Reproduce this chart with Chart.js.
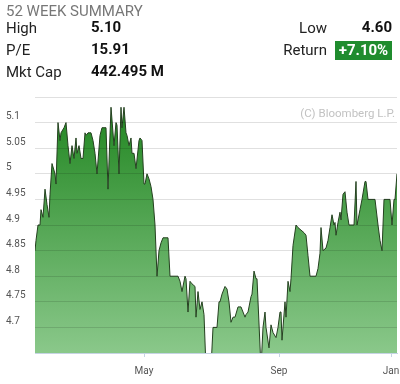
<!DOCTYPE html>
<html><head><meta charset="utf-8">
<script src="https://cdn.jsdelivr.net/npm/chart.js@4/dist/chart.umd.min.js"></script>
<style>
html,body{margin:0;padding:0;background:#fff;width:400px;height:384px;overflow:hidden;font-family:Roboto,sans-serif;}
#wrap{position:relative;width:400px;height:384px;}
canvas{position:absolute;left:0;top:0;}
.t{position:absolute;line-height:1;white-space:nowrap;font-size:15px;color:#222;}
.b{font-weight:bold;color:#111;}
#head{left:6px;top:4px;font-size:15px;color:#777;}
#ret{position:absolute;left:335px;top:41px;width:57px;height:19px;background:#1f8c2e;color:#fff;font-weight:bold;font-size:15px;line-height:19px;text-align:center;}
#copy{position:absolute;right:5px;top:108px;font-size:11.5px;line-height:1;color:#c2c2c2;white-space:nowrap;}
</style></head>
<body><div id="wrap">
<canvas id="c" width="400" height="384"></canvas>
<div class="t" id="head">52 WEEK SUMMARY</div>
<div class="t" style="left:6px;top:21px;">High</div>
<div class="t b" style="left:91px;top:20px;">5.10</div>
<div class="t" style="left:6px;top:43px;">P/E</div>
<div class="t b" style="left:91px;top:42px;">15.91</div>
<div class="t" style="left:6px;top:65px;">Mkt Cap</div>
<div class="t b" style="left:91px;top:64px;">442.495 M</div>
<div class="t" style="right:73px;top:21px;">Low</div>
<div class="t b" style="right:8px;top:20px;">4.60</div>
<div class="t" style="right:73px;top:43px;">Return</div>
<div id="ret">+7.10%</div>
<div id="copy">(C) Bloomberg L.P.</div>
</div>
<script>
const days = [0,1,3,5,6,8,10,12,14,15,17,20,21,23,25,26,29,31,33,35,37,39,41,42,44,46,48,50,51,53,56,58,60,62,65,67,71,73,76,79,81,82,84,86,87,89,91,92,94,96,97,99,101,104,105,107,109,110,112,114,116,118,120,122,124,126,128,133,135,138,143,145,147,150,151,153,155,157,160,161,163,165,167,169,171,173,176,178,180,182,184,185,187,190,192,194,196,198,200,203,206,210,211,213,216,217,219,221,222,226,228,230,231,234,236,238,241,243,245,246,247,250,251,253,255,256,258,261,263,266,269,271,273,275,281,283,285,286,288,291,293,295,297,299,300,301,303,305,306,308,310,312,314,319,321,322,325,327,330,331,333,340,343,345,347,349,355,357,359,360,362];
const prices = [4.85,4.87,4.90,4.90,4.93,4.915,4.97,4.94,4.915,4.96,5.02,5.00,4.98,5.10,5.065,5.08,5.09,5.10,5.055,5.02,5.055,5.03,5.07,5.04,5.055,5.03,5.03,5.08,5.075,5.08,5.08,5.065,5.04,5.00,5.075,5.09,5.09,4.97,5.13,5.055,5.10,5.095,5.00,5.13,5.09,5.13,5.08,5.075,5.055,5.07,5.04,5.04,5.01,5.065,5.07,5.065,4.98,4.98,5.00,4.99,4.975,4.95,4.90,4.80,4.85,4.865,4.875,4.875,4.80,4.80,4.80,4.79,4.77,4.80,4.795,4.73,4.79,4.785,4.78,4.72,4.77,4.735,4.75,4.725,4.62,4.60,4.62,4.70,4.70,4.70,4.75,4.75,4.765,4.78,4.775,4.75,4.71,4.72,4.72,4.74,4.74,4.72,4.725,4.73,4.76,4.765,4.81,4.795,4.795,4.62,4.70,4.73,4.70,4.66,4.705,4.69,4.68,4.70,4.73,4.73,4.675,4.75,4.72,4.79,4.77,4.795,4.86,4.90,4.895,4.89,4.885,4.88,4.84,4.80,4.80,4.815,4.845,4.895,4.85,4.855,4.87,4.895,4.92,4.90,4.905,4.88,4.905,4.925,4.91,4.96,4.965,4.925,4.90,4.90,4.985,4.90,4.93,4.95,4.985,4.985,4.95,4.95,4.90,4.87,4.85,4.95,4.95,4.90,4.95,4.95,5.00];
const monthTickDays = [109, 244, 356];
const monthTickLabels = ['May', 'Sep', 'Jan'];
const yMin = 4.65, yMax = 5.15, yStep = 0.05;

const ctx = document.getElementById('c').getContext('2d');
new Chart(ctx, {
  type: 'line',
  data: { datasets: [{
    data: days.map((d, i) => ({ x: d, y: prices[i] })),
    borderColor: '#24401f', borderWidth: 1, pointRadius: 0, tension: 0, fill: 'start',
    backgroundColor: (c) => {
      const a = c.chart.chartArea;
      if (!a) return 'rgb(70,160,70)';
      const g = c.chart.ctx.createLinearGradient(0, a.top, 0, a.bottom);
      g.addColorStop(0, 'rgb(30,132,30)');
      g.addColorStop(1, 'rgb(138,200,138)');
      return g;
    }
  }]},
  options: {
    responsive: false, animation: false, devicePixelRatio: 1,
    layout: { padding: { top: 97, left: 6, right: 3, bottom: 0 } },
    plugins: { legend: { display: false }, tooltip: { enabled: false } },
    scales: {
      x: {
        type: 'linear', min: 0, max: 362,
        afterBuildTicks: (s) => { s.ticks = monthTickDays.map(v => ({ value: v })); },
        afterFit: (s) => { s.height = 31; s.paddingLeft = 0; s.paddingRight = 0; },
        ticks: {
          autoSkip: false, maxRotation: 0, padding: 8, color: '#555',
          font: { family: 'Roboto', size: 10 },
          callback: (v) => { const i = monthTickDays.indexOf(v); return i >= 0 ? monthTickLabels[i] : ''; }
        },
        grid: { drawOnChartArea: false, drawTicks: true, tickLength: 4, color: '#c6d4e4' },
        border: { display: true, color: '#c6d4e4', width: 1 }
      },
      y: {
        min: yMin, max: yMax,
        afterFit: (s) => { s.width = 29; s.paddingTop = 0; s.paddingBottom = 0; },
        ticks: {
          stepSize: yStep, crossAlign: 'far', labelOffset: -6, padding: 0, color: '#555',
          font: { family: 'Roboto', size: 10 },
          callback: (v) => {
            const r = Math.round(v * 100) / 100;
            if (Math.abs(r - yMin) < 1e-6 || Math.abs(r - yMax) < 1e-6) return '';
            return String(r);
          }
        },
        grid: {
          drawTicks: false, z: 1,
          color: (c) => (c.tick && Math.abs(c.tick.value - yMin) < 1e-6) ? 'rgba(0,0,0,0)' : 'rgba(0,0,0,0.12)'
        },
        border: { display: false }
      }
    }
  }
});
</script>
</body></html>
